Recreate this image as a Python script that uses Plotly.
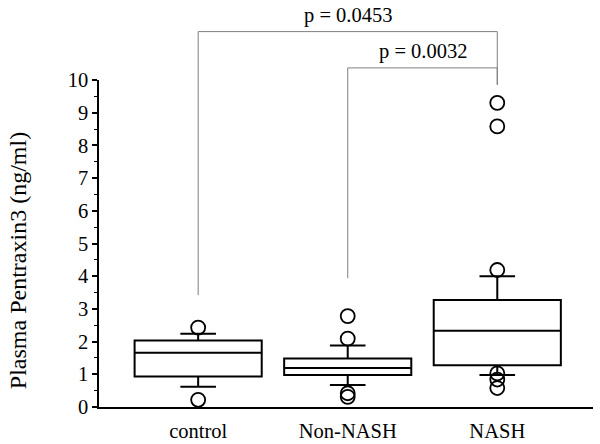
import plotly.graph_objects as go

# groups and box statistics (ng/ml)
groups = ["control", "Non-NASH", "NASH"]
q1 = [0.93, 0.98, 1.28]
median = [1.66, 1.19, 2.33]
q3 = [2.03, 1.48, 3.27]
lower_whisker = [0.62, 0.67, 0.98]
upper_whisker = [2.24, 1.88, 4.0]

# outliers per group
outliers = [
    [2.43, 0.22],
    [2.78, 2.09, 0.42, 0.31],
    [9.3, 8.58, 4.19, 1.03, 0.84, 0.58],
]

p_labels = ["p = 0.0453", "p = 0.0032"]

serif = "Liberation Serif"

fig = go.Figure()

for i, name in enumerate(groups):
    fig.add_trace(go.Box(
        x=[i], q1=[q1[i]], median=[median[i]], q3=[q3[i]],
        lowerfence=[lower_whisker[i]], upperfence=[upper_whisker[i]],
        width=0.85, whiskerwidth=0.28,
        line=dict(color="black", width=2),
        fillcolor="white", boxpoints=False,
        name=name, showlegend=False, hoverinfo="skip",
    ))
    fig.add_trace(go.Scatter(
        x=[i] * len(outliers[i]), y=outliers[i], mode="markers",
        marker=dict(symbol="circle-open", size=14, color="black",
                    line=dict(width=1.8)),
        cliponaxis=False, showlegend=False, hoverinfo="skip",
    ))

# significance brackets (y in paper units: 0 -> value 0, 1 -> value 10)
def val2paper(v):
    return v / 10.0

bracket_color = "#7f7f7f"
brackets = [
    # (x_left, x_right, y_top_paper, y_left_end, y_right_end)
    (0, 2, 1.148, val2paper(3.42), val2paper(9.85)),
    (1, 2, 1.037, val2paper(3.94), val2paper(9.85)),
]
for (xl, xr, yt, yl, yr), lab in zip(brackets, p_labels):
    fig.add_shape(type="line", xref="x", yref="paper", x0=xl, x1=xl, y0=yl, y1=yt,
                  line=dict(color=bracket_color, width=1))
    fig.add_shape(type="line", xref="x", yref="paper", x0=xl, x1=xr, y0=yt, y1=yt,
                  line=dict(color=bracket_color, width=1))
    fig.add_shape(type="line", xref="x", yref="paper", x0=xr, x1=xr, y0=yr, y1=yt,
                  line=dict(color=bracket_color, width=1))
    fig.add_annotation(x=(xl + xr) / 2, y=yt, xref="x", yref="paper",
                       text=lab, showarrow=False, yanchor="bottom", yshift=3,
                       font=dict(family=serif, size=20.5, color="black"))

# y axis label, placed a little below the plot centre as in the original
fig.add_annotation(x=0, y=0.446, xref="paper", yref="paper", xshift=-81,
                   text="Plasma Pentraxin3 (ng/ml)", textangle=-90,
                   showarrow=False, xanchor="center", yanchor="middle",
                   font=dict(family=serif, size=24, color="black"))

fig.update_layout(
    width=600, height=444,
    margin=dict(l=99, r=7, t=80, b=37),
    plot_bgcolor="white", paper_bgcolor="white",
    font=dict(family=serif, size=20.5, color="black"),
    xaxis=dict(
        range=[-0.663, 2.64], tickvals=[0, 1, 2], ticktext=groups,
        showgrid=False, zeroline=False, showline=True, automargin=False,
        linecolor="black", linewidth=2, ticks="", ticklabelstandoff=4,
        tickfont=dict(size=20.5),
    ),
    yaxis=dict(
        range=[0, 10], dtick=1, showgrid=False, zeroline=False,
        showline=True, linecolor="black", linewidth=1.5, automargin=False,
        ticks="outside", ticklen=5, tickwidth=1.5, tickcolor="black",
        minor=dict(dtick=0.5, ticks="outside", ticklen=3, tickwidth=1.2,
                   tickcolor="black"),
    ),
)

# drop the default 8px page margin so the figure fills the window
fig.write_html("out.html", config={"displayModeBar": False},
               post_script="document.body.style.margin = '0';")
